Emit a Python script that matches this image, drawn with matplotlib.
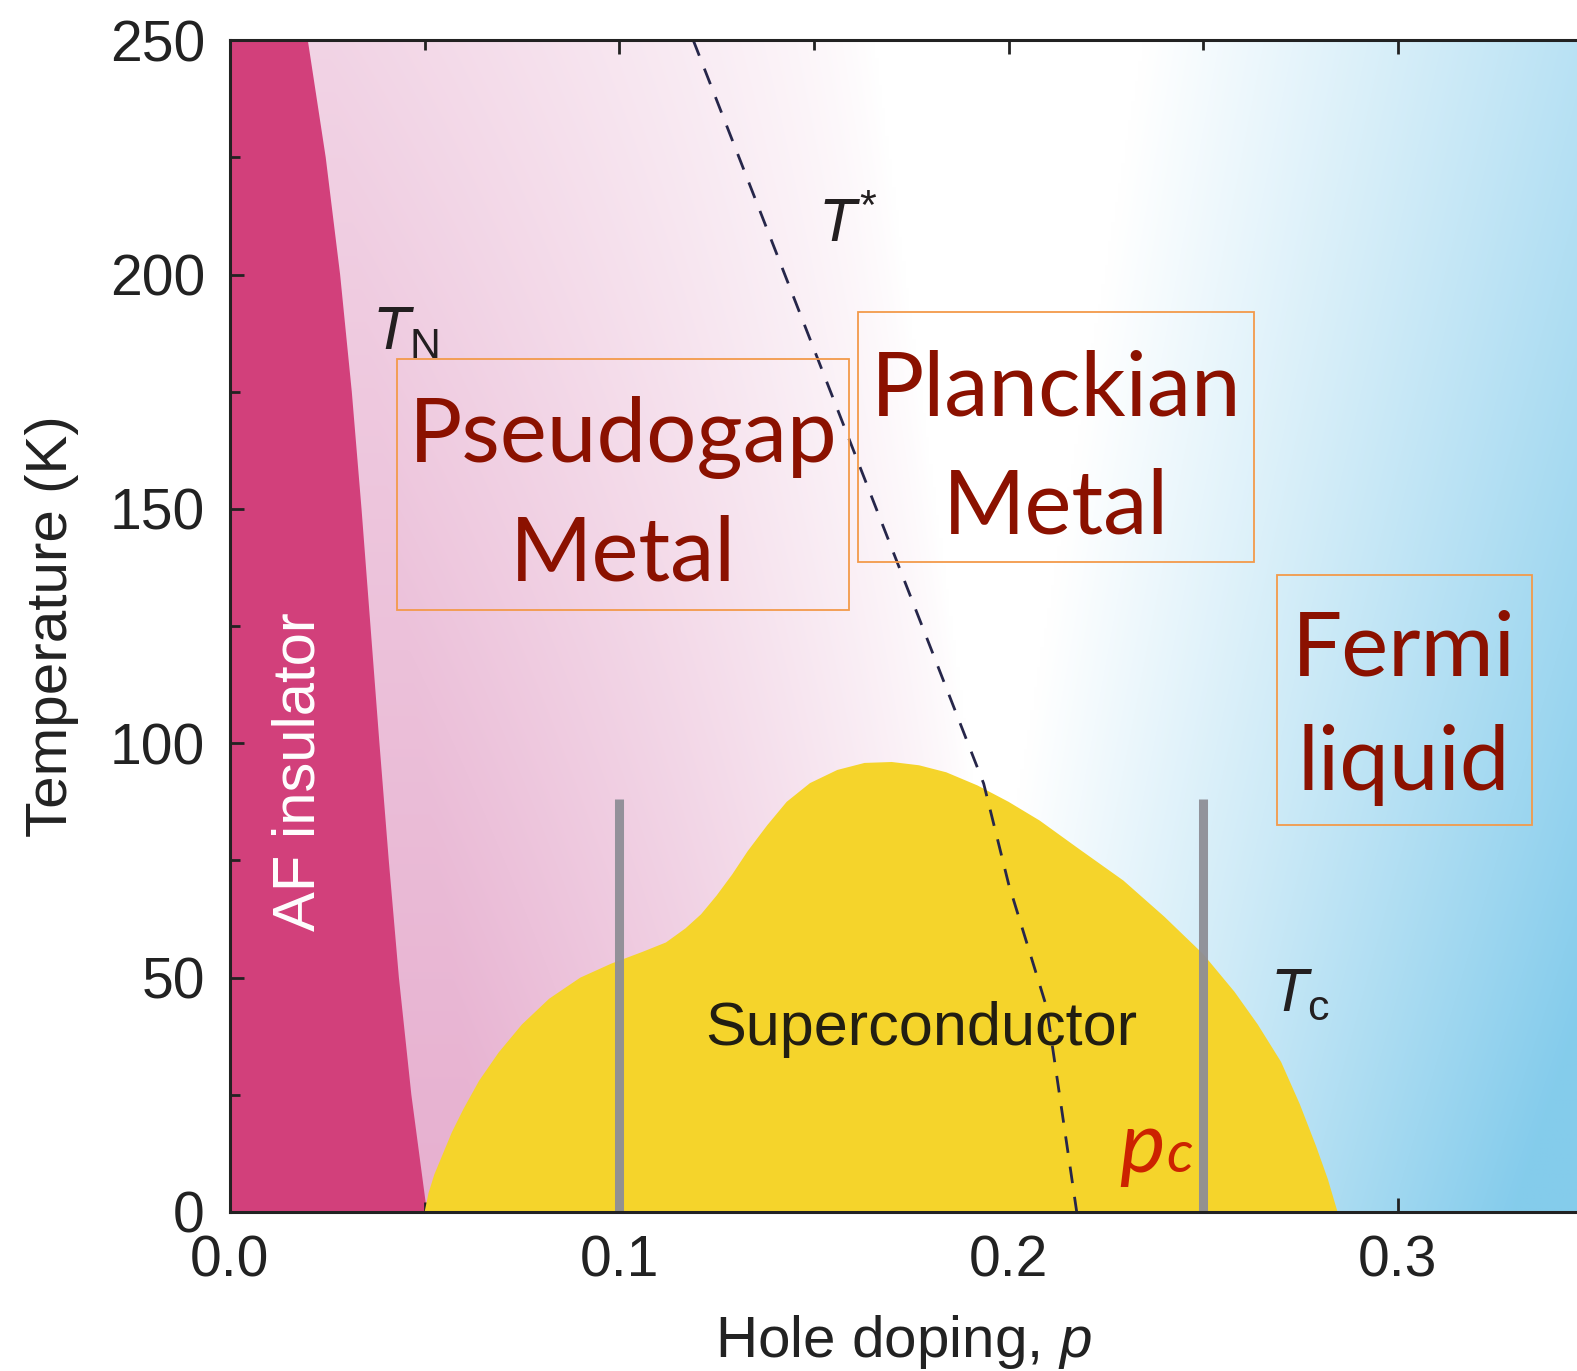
import numpy as np
import matplotlib
matplotlib.use("Agg")
import matplotlib.pyplot as plt
from matplotlib.patches import Rectangle, Polygon

# ---------------- data ----------------
# Neel temperature boundary of AF insulator (p, T)
tn_p = [0.0200, 0.0246, 0.0283, 0.0313, 0.0338, 0.0361, 0.0384, 0.0408, 0.0434, 0.0466, 0.0506]
tn_T = [250, 225, 200, 175, 150, 125, 100, 75, 50, 25, 0]

# superconducting dome Tc(p)
sc_p = [0.0500, 0.0510, 0.0525, 0.0545, 0.0570, 0.0600, 0.0640, 0.0690, 0.0750, 0.0820,
        0.0900, 0.0980, 0.1060, 0.1120, 0.1170, 0.1210, 0.1250, 0.1290, 0.1330, 0.1380,
        0.1430, 0.1490, 0.1560, 0.1630, 0.1700, 0.1770, 0.1840, 0.1920, 0.2000, 0.2080,
        0.2180, 0.2295, 0.2400, 0.2500, 0.2580, 0.2640, 0.2700, 0.2748, 0.2790, 0.2820,
        0.2845]
sc_T = [0, 4, 8, 12, 17, 22, 28, 34, 40, 45.5,
        50, 53, 55.5, 57.5, 60.5, 63.5, 67.5, 72, 77, 82.5,
        87.5, 91.5, 94.3, 95.8, 96, 95.3, 93.8, 91, 87.5, 83.5,
        77.5, 70.7, 63, 55, 47, 40, 32, 23, 14, 7,
        0]

# pseudogap line T*(p)
ts_p = [0.119, 0.1936, 0.2000, 0.2098, 0.2175]
ts_T = [250, 91.4, 70, 43.6, 0]

# vertical grey markers
mark_p = [0.10, 0.25]
mark_T = 88

xticks = [0.0, 0.1, 0.2, 0.3]
xtick_labels = ["0.0", "0.1", "0.2", "0.3"]
yticks = [0, 50, 100, 150, 200, 250]
ytick_labels = ["0", "50", "100", "150", "200", "250"]

XMAX = 0.346
YMAX = 250

# ---------------- figure ----------------
plt.rcParams['font.family'] = ['Liberation Sans', 'DejaVu Sans']
plt.rcParams['mathtext.fontset'] = 'custom'
plt.rcParams['mathtext.rm'] = 'Liberation Sans'
plt.rcParams['mathtext.it'] = 'Liberation Sans:italic'

fig = plt.figure(figsize=(15.77, 13.71), dpi=100)
ax = fig.add_axes([0.1458, 0.116, 1.0 - 0.1458, 0.9707 - 0.116])

# background gradient
nx, ny = 400, 300
xx, yy = np.meshgrid(np.linspace(0, XMAX, nx), np.linspace(0, YMAX, ny))
t = yy / YMAX
pink = np.array([0.905, 0.69, 0.815])
blue = np.array([0.52, 0.80, 0.925])
xe = 0.205 - 0.04 * t
wp = np.clip((xe - xx) / 0.14, 0, 1) ** 0.75 * (1 - 0.45 * t)
xb = 0.185 + 0.05 * t
wbw = 0.145 + 0.05 * t
wb = np.clip((xx - xb) / wbw, 0, 1)
img = 1 - wp[..., None] * (1 - pink) - wb[..., None] * (1 - blue)
img = np.clip(img, 0, 1)
ax.imshow(img, extent=[0, XMAX, 0, YMAX], origin='lower', aspect='auto',
          interpolation='bilinear', zorder=0)

# AF insulator
af_x = [0] + tn_p + [0]
af_y = [YMAX] + tn_T + [0]
ax.add_patch(Polygon(np.column_stack([af_x, af_y]), closed=True,
                     facecolor='#D2407B', edgecolor='none', zorder=1))

# superconducting dome
ax.add_patch(Polygon(np.column_stack([sc_p, sc_T]), closed=True,
                     facecolor='#F5D42B', edgecolor='none', zorder=2))

# grey markers
for p in mark_p:
    ax.plot([p, p], [0, mark_T], color='#8E8E96', lw=6.5, alpha=0.95,
            solid_capstyle='butt', zorder=3)

# T* dashed line
ax.plot(ts_p, ts_T, color='#26264A', lw=2.0, dashes=(6, 5), zorder=4)

# labels
ax.text(0.0178, 94, 'AF insulator', rotation=90, color='white', fontsize=43,
        ha='center', va='center', zorder=5)
ax.text(0.1775, 39, 'Superconductor', color='#221E12', fontsize=44,
        ha='center', va='center', zorder=5)
ax.text(0.0365, 184, r'$T_{\mathrm{N}}$', color='#231F20', fontsize=44,
        ha='left', va='baseline', zorder=5)
ax.text(0.151, 207, r'$T^{*}$', color='#231F20', fontsize=44,
        ha='left', va='baseline', zorder=5)
ax.text(0.2672, 43, r'$T_{\mathrm{c}}$', color='#231F20', fontsize=44,
        ha='left', va='baseline', zorder=5)

# p_c
ax.text(0.2285, 8.5, 'p', color='#CC2200', fontsize=62, fontfamily='Lato',
        style='italic', ha='left', va='baseline', zorder=5)
ax.text(0.2405, 8.5, 'c', color='#CC2200', fontsize=42, fontfamily='Lato',
        style='italic', ha='left', va='baseline', zorder=5)

# boxed regime labels
red = '#8B1100'
boxes = [
    (0.0429, 128.5, 0.159 - 0.0429, 182 - 128.5),
    (0.1612, 138.6, 0.263 - 0.1612, 192 - 138.6),
    (0.269, 82.6, 0.3344 - 0.269, 136 - 82.6),
]
for (bx, by, bw, bh) in boxes:
    ax.add_patch(Rectangle((bx, by), bw, bh, facecolor='none',
                           edgecolor='#F39A4A', lw=1.3, zorder=6))

lab_fs = 64
ax.text(0.1010, 160, 'Pseudogap', color=red, fontsize=lab_fs, fontfamily='Lato',
        ha='center', va='baseline', zorder=7)
ax.text(0.1010, 134.8, 'Metal', color=red, fontsize=lab_fs, fontfamily='Lato',
        ha='center', va='baseline', zorder=7)
ax.text(0.2121, 170, 'Planckian', color=red, fontsize=lab_fs, fontfamily='Lato',
        ha='center', va='baseline', zorder=7)
ax.text(0.2121, 144.8, 'Metal', color=red, fontsize=lab_fs, fontfamily='Lato',
        ha='center', va='baseline', zorder=7)
ax.text(0.3016, 114.4, 'Fermi', color=red, fontsize=lab_fs, fontfamily='Lato',
        ha='center', va='baseline', zorder=7)
ax.text(0.3016, 90, 'liquid', color=red, fontsize=lab_fs, fontfamily='Lato',
        ha='center', va='baseline', zorder=7)

# axes
ax.set_xlim(0, XMAX)
ax.set_ylim(0, YMAX)
ax.set_xticks(xticks)
ax.set_xticklabels(xtick_labels)
ax.set_yticks(yticks)
ax.set_yticklabels(ytick_labels)
ax.set_xticks(np.arange(0.05, XMAX, 0.1), minor=True)
ax.set_yticks(np.arange(25, YMAX, 50), minor=True)
ax.tick_params(which='both', direction='in', top=True, right=False,
               color='#222222', width=2, labelsize=41, labelcolor='#222222')
ax.tick_params(which='major', length=10, pad=16)
ax.tick_params(which='minor', length=7)
ax.tick_params(axis='y', which='major', pad=18)
for side in ['left', 'bottom', 'top']:
    ax.spines[side].set_linewidth(2.2)
    ax.spines[side].set_color('#222222')
ax.spines['right'].set_visible(False)
for sp in ax.spines.values():
    sp.set_zorder(10)

ax.set_xlabel('Hole doping, $p$', fontsize=42, color='#222222', labelpad=18)
ax.set_ylabel('Temperature (K)', fontsize=42, color='#222222', labelpad=22)

fig.savefig('out.png', dpi=100)
